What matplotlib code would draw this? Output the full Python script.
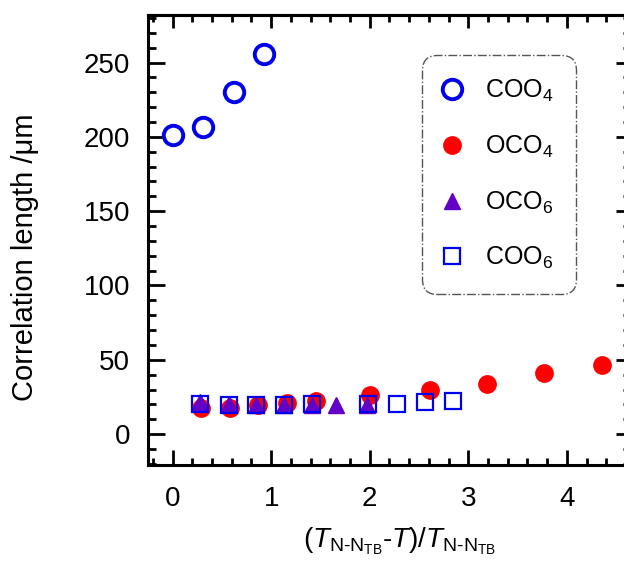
"""
Correlation length vs reduced temperature for four compounds.
"""

import matplotlib.pyplot as plt
from matplotlib.ticker import MultipleLocator

plt.rcParams['font.family'] = ['Liberation Sans', 'DejaVu Sans']
plt.rcParams['mathtext.fontset'] = 'custom'
plt.rcParams['mathtext.rm'] = 'Liberation Sans'
plt.rcParams['mathtext.it'] = 'Liberation Sans:italic'

# data
coo4_x = [0.0, 0.31, 0.62, 0.93]
coo4_y = [201.5, 206.5, 230.0, 255.5]

oco4_x = [0.29, 0.58, 0.87, 1.16, 1.45, 2.0, 2.61, 3.19, 3.77, 4.36]
oco4_y = [17.5, 17.5, 19.5, 21.0, 22.5, 26.0, 29.5, 34.0, 41.0, 46.5]

oco6_x = [0.28, 0.57, 0.85, 1.13, 1.41, 1.66, 1.97]
oco6_y = [21.5, 20.5, 19.5, 19.5, 19.5, 19.5, 19.5]

coo6_x = [0.28, 0.57, 0.85, 1.13, 1.41, 1.98, 2.28, 2.56, 2.84]
coo6_y = [20.0, 19.5, 19.5, 19.5, 20.0, 20.5, 20.5, 21.5, 22.0]

blue = '#0000ee'
red = '#ff0000'
purple = '#6200c8'

fig = plt.figure(figsize=(6.24, 5.62), dpi=100)
ax = fig.add_axes([148 / 624, 1 - 465 / 562, 478 / 624, 450 / 562])

ax.plot(oco4_x, oco4_y, 'o', ms=12.5, color=red, mec=red, label='OCO$_\\mathregular{4}$', zorder=3)
ax.plot(oco6_x, oco6_y, '^', ms=11, color=purple, mec=purple, label='OCO$_\\mathregular{6}$', zorder=4)
ax.plot(coo6_x, coo6_y, 's', ms=11, mfc='none', mec=blue, mew=1.6, label='COO$_\\mathregular{6}$', zorder=5)
ax.plot(coo4_x, coo4_y, 'o', ms=14, mfc='none', mec=blue, mew=2.8, label='COO$_\\mathregular{4}$', zorder=5)

ax.set_xlim(-0.25, 4.6)
ax.set_ylim(-20.8, 282)

ax.xaxis.set_major_locator(MultipleLocator(1))
ax.xaxis.set_minor_locator(MultipleLocator(0.2))
ax.yaxis.set_major_locator(MultipleLocator(50))
ax.yaxis.set_minor_locator(MultipleLocator(10))

for s in ax.spines.values():
    s.set_linewidth(2.2)

ax.tick_params(which='both', direction='in', width=2.0, labelsize=20)
ax.tick_params(axis='y', which='major', length=12, pad=13)
ax.tick_params(axis='y', which='minor', length=6)
ax.tick_params(axis='x', which='major', length=11, pad=15)
ax.tick_params(axis='x', which='minor', length=5)

# top and right axes carry ticks only
top = ax.secondary_xaxis('top')
top.xaxis.set_major_locator(MultipleLocator(1))
top.xaxis.set_minor_locator(MultipleLocator(0.2))
top.tick_params(which='both', direction='in', width=2.0, labeltop=False)
top.tick_params(which='major', length=9.5)
top.tick_params(which='minor', length=5)
top.spines['top'].set_linewidth(2.2)

right = ax.secondary_yaxis('right')
right.yaxis.set_major_locator(MultipleLocator(50))
right.yaxis.set_minor_locator(MultipleLocator(10))
right.tick_params(which='both', direction='in', width=2.0, labelright=False)
right.tick_params(which='major', length=7)
right.tick_params(which='minor', length=2)
right.spines['right'].set_linewidth(2.2)

ax.set_ylabel('Correlation length /\u03bcm', fontsize=21)
ax.yaxis.set_label_coords(-0.228, 0.462)
ax.set_xlabel('$(\\mathit{T}_{\\mathregular{N\\text{-}N_{TB}}}\\text{-}\\mathit{T})\\mathregular{/}\\mathit{T}_{\\mathregular{N\\text{-}N_{TB}}}$',
              fontsize=20)
ax.xaxis.set_label_coords(0.527, -0.135)

handles, labels = ax.get_legend_handles_labels()
order = [3, 0, 1, 2]
leg = ax.legend([handles[i] for i in order], [labels[i] for i in order],
                loc='upper left', bbox_to_anchor=(0.573, 0.911), fontsize=18,
                handlelength=0.6, handletextpad=1.0, labelspacing=1.18,
                borderpad=0.92, borderaxespad=0, framealpha=1)
frame = leg.get_frame()
frame.set_boxstyle('round,pad=0,rounding_size=0.6')
frame.set_edgecolor('#555555')
frame.set_linewidth(1.0)
frame.set_linestyle('-.')

fig.savefig('out.png', dpi=100)
